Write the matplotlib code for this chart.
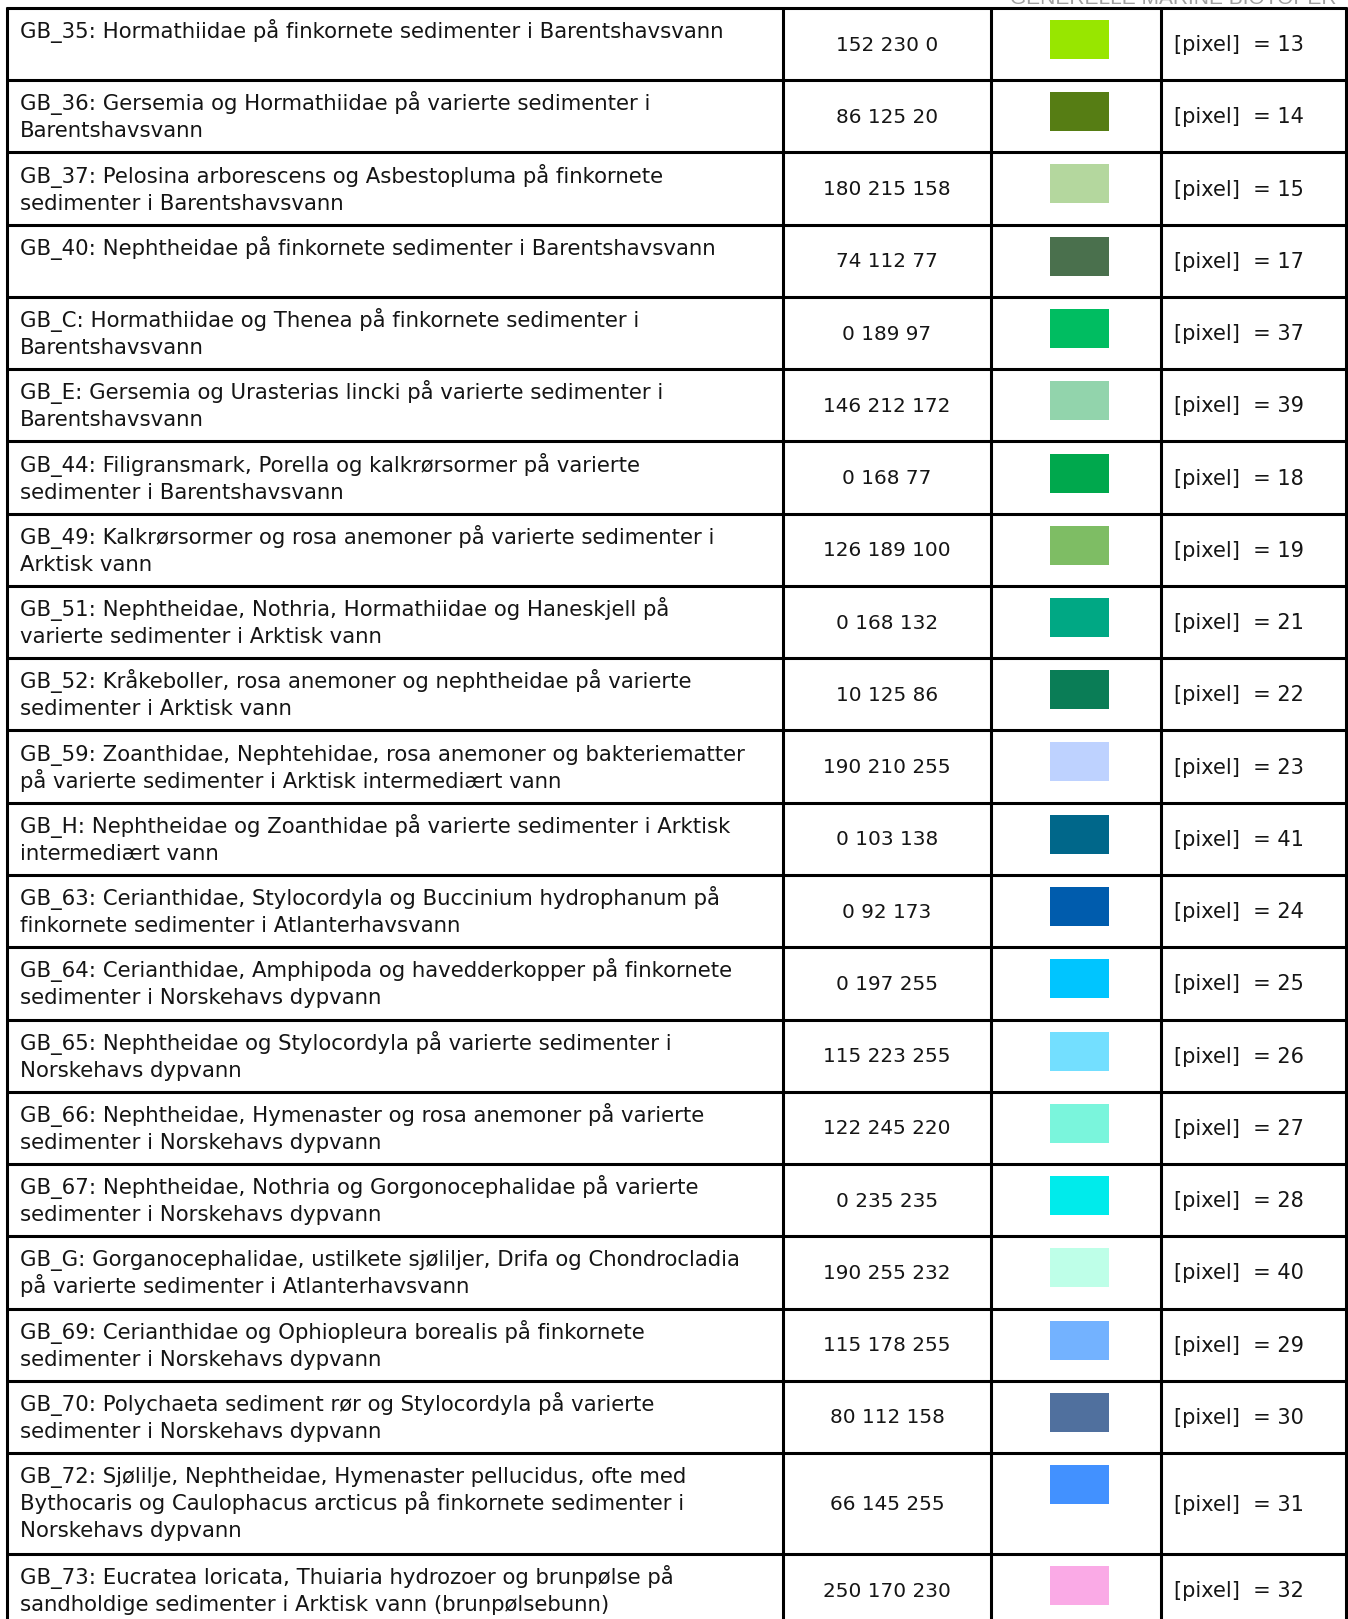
import numpy as np
import matplotlib
matplotlib.use("Agg")
import matplotlib.pyplot as plt
from matplotlib.patches import Rectangle

descriptions = [
    "GB_35: Hormathiidae på finkornete sedimenter i Barentshavsvann",
    "GB_36: Gersemia og Hormathiidae på varierte sedimenter i\nBarentshavsvann",
    "GB_37: Pelosina arborescens og Asbestopluma på finkornete\nsedimenter i Barentshavsvann",
    "GB_40: Nephtheidae på finkornete sedimenter i Barentshavsvann",
    "GB_C: Hormathiidae og Thenea på finkornete sedimenter i\nBarentshavsvann",
    "GB_E: Gersemia og Urasterias lincki på varierte sedimenter i\nBarentshavsvann",
    "GB_44: Filigransmark, Porella og kalkrørsormer på varierte\nsedimenter i Barentshavsvann",
    "GB_49: Kalkrørsormer og rosa anemoner på varierte sedimenter i\nArktisk vann",
    "GB_51: Nephtheidae, Nothria, Hormathiidae og Haneskjell på\nvarierte sedimenter i Arktisk vann",
    "GB_52: Kråkeboller, rosa anemoner og nephtheidae på varierte\nsedimenter i Arktisk vann",
    "GB_59: Zoanthidae, Nephtehidae, rosa anemoner og bakteriematter\npå varierte sedimenter i Arktisk intermediært vann",
    "GB_H: Nephtheidae og Zoanthidae på varierte sedimenter i Arktisk\nintermediært vann",
    "GB_63: Cerianthidae, Stylocordyla og Buccinium hydrophanum på\nfinkornete sedimenter i Atlanterhavsvann",
    "GB_64: Cerianthidae, Amphipoda og havedderkopper på finkornete\nsedimenter i Norskehavs dypvann",
    "GB_65: Nephtheidae og Stylocordyla på varierte sedimenter i\nNorskehavs dypvann",
    "GB_66: Nephtheidae, Hymenaster og rosa anemoner på varierte\nsedimenter i Norskehavs dypvann",
    "GB_67: Nephtheidae, Nothria og Gorgonocephalidae på varierte\nsedimenter i Norskehavs dypvann",
    "GB_G: Gorganocephalidae, ustilkete sjøliljer, Drifa og Chondrocladia\npå varierte sedimenter i Atlanterhavsvann",
    "GB_69: Cerianthidae og Ophiopleura borealis på finkornete\nsedimenter i Norskehavs dypvann",
    "GB_70: Polychaeta sediment rør og Stylocordyla på varierte\nsedimenter i Norskehavs dypvann",
    "GB_72: Sjølilje, Nephtheidae, Hymenaster pellucidus, ofte med\nBythocaris og Caulophacus arcticus på finkornete sedimenter i\nNorskehavs dypvann",
    "GB_73: Eucratea loricata, Thuiaria hydrozoer og brunpølse på\nsandholdige sedimenter i Arktisk vann (brunpølsebunn)",
]

red = [152, 86, 180, 74, 0, 146, 0, 126, 0, 10, 190, 0, 0, 0, 115, 122, 0, 190, 115, 80, 66, 250]
green = [230, 125, 215, 112, 189, 212, 168, 189, 168, 125, 210, 103, 92, 197, 223, 245, 235, 255, 178, 112, 145, 170]
blue = [0, 20, 158, 77, 97, 172, 77, 100, 132, 86, 255, 138, 173, 255, 255, 220, 235, 232, 255, 158, 255, 230]
pixel_values = [13, 14, 15, 17, 37, 39, 18, 19, 21, 22, 23, 41, 24, 25, 26, 27, 28, 40, 29, 30, 31, 32]

header = "GENERELLE MARINE BIOTOPER"

W, H = 1348, 1619
fig = plt.figure(figsize=(W / 100, H / 100), dpi=100)
ax = fig.add_axes([0, 0, 1, 1])
ax.set_xlim(0, W)
ax.set_ylim(H, 0)
ax.axis("off")

font = "DejaVu Sans"
fs_desc = 15.3
fs_num = 14.4
fs_pix = 15.0
lw = 2.2
txt_col = "#151515"

# column edges
x_left, x_c1, x_c2, x_c3, x_right = 7, 783, 991, 1161, 1346

# row tops
row_h = 72.25
tops = [8.0]
for d in descriptions:
    n = d.count("\n") + 1
    tops.append(tops[-1] + (row_h if n <= 2 else 101))

for i, d in enumerate(descriptions):
    top, bot = tops[i], tops[i + 1]
    mid = (top + bot) / 2
    for k, line in enumerate(d.split("\n")):
        ax.text(20, top + 30 + k * 27, line, fontsize=fs_desc, family=font,
                ha="left", va="baseline", color=txt_col)
    ax.text((x_c1 + x_c2) / 2, mid + 1, f"{red[i]} {green[i]} {blue[i]}",
            fontsize=fs_num, family=font, ha="center", va="center", color=txt_col)
    ax.add_patch(Rectangle((1050, top + 12), 59, 39, linewidth=0,
                           facecolor=(red[i] / 255, green[i] / 255, blue[i] / 255)))
    ax.text(1174, mid + 1, f"[pixel]  = {pixel_values[i]}", fontsize=fs_pix,
            family=font, ha="left", va="center", color=txt_col)

# grid lines
for y in tops:
    ax.plot([x_left - 1, x_right + 1], [y, y], color="black", lw=lw, solid_capstyle="butt")
for x in [x_left, x_c1, x_c2, x_c3, x_right]:
    ax.plot([x, x], [tops[0] - 1, H + 5], color="black", lw=lw, solid_capstyle="butt")

ax.text(1337, 4, header, fontsize=15, family="Liberation Sans", ha="right",
        va="baseline", color="#a0a0a0")

fig.savefig("out.png", dpi=100)
